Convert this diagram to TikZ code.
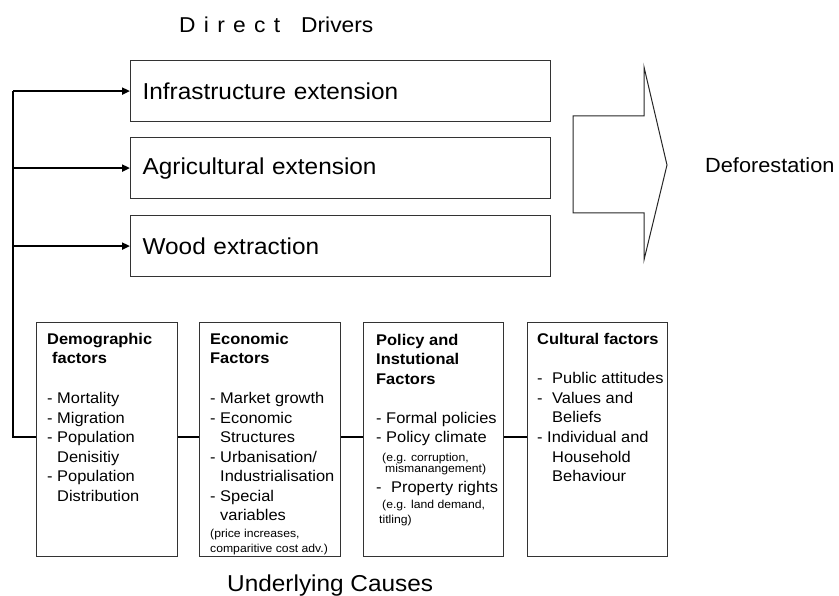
\documentclass[tikz,border=0pt]{standalone}
\usepackage{fontspec}
\setmainfont[FakeStretch=1.06]{Liberation Sans}
\usetikzlibrary{arrows.meta}
\newcommand{\dlsp}{\hspace{8.3pt}}
\begin{document}
\begin{tikzpicture}[x=1pt,y=-1pt,
  drv/.style={draw=black!80, line width=1.2pt, minimum width=420pt, minimum height=61pt,
    text width=396pt, inner xsep=12pt, inner ysep=0pt, align=left, anchor=north west,
    font=\fontsize{23}{27}\selectfont},
  ucbox/.style={draw=black!80, line width=1.2pt, minimum width=141pt, minimum height=234pt,
    anchor=north west, inner sep=0pt},
  lt/.style={anchor=base west, inner sep=0pt, font=\fontsize{15.5}{18}\selectfont},
  hd/.style={lt, font=\bfseries\fontsize{15.5}{18}\selectfont},
  sm/.style={anchor=base west, inner sep=0pt, font=\fontsize{11.5}{13}\selectfont},
  big/.style={anchor=base west, inner sep=0pt, font=\fontsize{23}{26}\selectfont},
  arr/.style={line width=2pt, -{Triangle[length=8pt,width=7pt]}},
  fb/.style={line width=2.5pt},
  conn/.style={line width=1.5pt}
]
\useasboundingbox (0,0) rectangle (839,596);

% title
\node[big, font=\fontsize{21.5}{24}\selectfont] (dd) at (179,32.5)
  {D\dlsp i\dlsp r\dlsp e\dlsp c\dlsp t\hspace{21pt}Drivers};

% direct drivers
\node[drv] (infra) at (130,60) {Infrastructure extension};
\node[drv] (agri) at (130,137) {Agricultural extension};
\node[drv] (wood) at (130,215) {Wood extraction};

% big arrow
\draw[line width=1pt, draw=black!85] (573,116) -- (644,116) -- (644,67) -- (667,165)
  -- (644,260) -- (644,213) -- (573,213) -- cycle;
\node[anchor=west, inner sep=0pt, font=\fontsize{20.5}{24}\selectfont] (defo) at (705,165) {Deforestation};

% underlying causes boxes
\node[ucbox] (demo) at (36,322) {};
\node[ucbox] (econ) at (199,322) {};
\node[ucbox, minimum width=140pt] (poli) at (363,322) {};
\node[ucbox, minimum width=140pt] (cult) at (527,322) {};

\coordinate (hub) at (13,437);

% connectors
\draw[fb] (demo.west |- hub) -- (hub) -- (hub |- infra.west);
\draw[arr] (hub |- infra.west) -- (infra.west);
\draw[arr] (hub |- agri.west) -- (agri.west);
\draw[arr] (hub |- wood.west) -- (wood.west);
\draw[conn] (demo.east |- hub) -- (econ.west |- hub);
\draw[conn] (econ.east |- hub) -- (poli.west |- hub);
\draw[conn] (poli.east |- hub) -- (cult.west |- hub);

% demographic
\node[hd] (d1) at (47,344.5) {Demographic};
\node[hd] (d2) at (52,364) {factors};
\node[lt] (d3) at (47,403.5) {- Mortality};
\node[lt] (d4) at (47,423) {- Migration};
\node[lt] (d5) at (47,442.5) {- Population};
\node[lt] (d6) at (57,462) {Denisitiy};
\node[lt] (d7) at (47,481.5) {- Population};
\node[lt] (d8) at (57,501) {Distribution};

% economic
\node[hd] (e1) at (210,344.5) {Economic};
\node[hd] (e2) at (210,364) {Factors};
\node[lt] (e3) at (210,403.5) {- Market growth};
\node[lt] (e4) at (210,423) {- Economic};
\node[lt] (e5) at (220,442.5) {Structures};
\node[lt] (e6) at (210,462) {- Urbanisation/};
\node[lt] (e7) at (220,481.5) {Industrialisation};
\node[lt] (e8) at (210,501) {- Special};
\node[lt] (e9) at (220,520.5) {variables};
\node[sm] (e10) at (210,537.5) {(price increases,};
\node[sm] (e11) at (210,552) {comparitive cost adv.)};

% policy
\node[hd] (p1) at (376,345.5) {Policy and};
\node[hd] (p2) at (376,365) {Instutional};
\node[hd] (p3) at (376,384.5) {Factors};
\node[lt] (p4) at (376,423) {- Formal policies};
\node[lt] (p5) at (376,442.5) {- Policy climate};
\node[sm] (p6) at (382,461) {(e.g. corruption,};
\node[sm] (p7) at (385,472.5) {mismanangement)};
\node[lt] (p8) at (376,492) {-\hspace{9.5pt}Property rights};
\node[sm] (p9) at (382,508.5) {(e.g. land demand,};
\node[sm] (p10) at (379,523) {titling)};

% cultural
\node[hd] (c1) at (537,344.5) {Cultural factors};
\node[lt] (c2) at (537,383.5) {-\hspace{9.5pt}Public attitudes};
\node[lt] (c3) at (537,403.5) {-\hspace{9.5pt}Values and};
\node[lt] (c4) at (552,422.5) {Beliefs};
\node[lt] (c5) at (537,442.5) {- Individual and};
\node[lt] (c6) at (552,462) {Household};
\node[lt] (c7) at (552,481.5) {Behaviour};

% bottom title
\node[big] (uc) at (227,591) {Underlying Causes};
\end{tikzpicture}
\end{document}
